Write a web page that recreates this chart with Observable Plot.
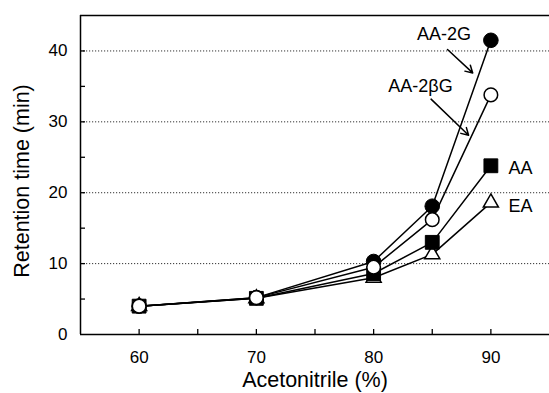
<!DOCTYPE html>
<html><head><meta charset="utf-8">
<script src="https://cdn.jsdelivr.net/npm/d3@7"></script>
<script src="https://cdn.jsdelivr.net/npm/@observablehq/plot@0.6"></script>
<style>
body{margin:0;background:#fff;}
svg{font-family:"Liberation Sans",Arial,sans-serif;}
</style></head><body>
<div id="chart"></div>
<script>
const acetonitrile = [60, 70, 80, 85, 90];
const aa2g  = [4.0, 5.2, 10.3, 18.1, 41.5];
const aa2bg = [4.0, 5.2, 9.5, 16.2, 33.8];
const aa    = [4.0, 5.1, 8.6, 13.0, 23.8];
const ea    = [4.0, 5.1, 8.0, 11.3, 18.6];
const xTicks = [60, 70, 80, 90];
const xMinor = [60, 65, 70, 75, 80, 85, 90];
const yTicks = [0, 10, 20, 30, 40];
const yMinor = [5, 10, 15, 20, 25, 30, 35, 40];
const gridY = [10, 20, 30, 40];
const xTitle = "Acetonitrile (%)";
const yTitle = "Retention time (min)";
const arrowLabels = [
  {name: "AA-2G", x: 86.0, y: 42.4},
  {name: "AA-2βG", x: 84.0, y: 35.0}
];
const endLabels = [
  {name: "AA", x: 91.5, y: 23.4},
  {name: "EA", x: 91.5, y: 18.1}
];
const arrows = [
  {x1: 86.3, y1: 40.2, x2: 88.45, y2: 36.9},
  {x1: 84.9, y1: 33.2, x2: 88.1, y2: 28.1}
];

const series = (vals) => acetonitrile.map((x, i) => ({x, y: vals[i]}));
const S = {
  aa2g: series(aa2g), aa2bg: series(aa2bg), aa: series(aa), ea: series(ea)
};

const line = (d) => Plot.line(d, {x: "x", y: "y", stroke: "black", strokeWidth: 1.5});

const chart = Plot.plot({
  width: 549, height: 393,
  marginLeft: 80, marginRight: 0, marginTop: 15, marginBottom: 59,
  style: {fontFamily: '"Liberation Sans", Arial, sans-serif', background: "white", color: "black", fontSize: "17px"},
  x: {domain: [55, 95], label: null},
  y: {domain: [0, 45], label: null},
  marks: [
    Plot.ruleY(gridY, {stroke: "#333", strokeDasharray: "1.2,1.8", strokeWidth: 1}),
    Plot.ruleY([45], {stroke: "black", strokeWidth: 1.5}),
    Plot.ruleY([0], {stroke: "black", strokeWidth: 1.5}),
    Plot.ruleX([55], {stroke: "black", strokeWidth: 1.5}),
    Plot.axisX({ticks: xMinor, tickSize: 5, dy: -5, text: null, label: null, strokeWidth: 1.3}),
    Plot.axisY({ticks: yMinor, tickSize: 5, dx: 5, text: null, label: null, strokeWidth: 1.3}),
    Plot.axisX({ticks: xTicks, tickSize: 0, tickPadding: 16, fontSize: 17, label: null, tickFormat: d => String(d)}),
    Plot.axisY({ticks: yTicks, tickSize: 0, tickPadding: 13, fontSize: 17, label: null, tickFormat: d => String(d)}),
    Plot.text([xTitle], {frameAnchor: "bottom", textAnchor: "middle", dy: 52, fontSize: 21.5, fill: "black", text: d => d}),
    Plot.text([yTitle], {frameAnchor: "left", textAnchor: "middle", dx: -58, dy: 6, rotate: -90, fontSize: 21.5, fill: "black", text: d => d}),
    line(S.ea), line(S.aa), line(S.aa2g), line(S.aa2bg),
    Plot.dot(S.ea, {x: "x", y: "y", symbol: "triangle", r: 5.6, fill: "white", stroke: "black", strokeWidth: 1.5}),
    Plot.dot(S.aa, {x: "x", y: "y", symbol: "square", r: 7.8, fill: "black", stroke: "black", strokeWidth: 1}),
    Plot.dot(S.aa2g, {x: "x", y: "y", r: 7.3, fill: "black", stroke: "black", strokeWidth: 1}),
    Plot.dot(S.aa2bg, {x: "x", y: "y", r: 6.8, fill: "white", stroke: "black", strokeWidth: 1.5}),
    Plot.arrow(arrows, {x1: "x1", y1: "y1", x2: "x2", y2: "y2", stroke: "black", strokeWidth: 1.5, headLength: 8, bend: 0}),
    Plot.text(arrowLabels, {x: "x", y: "y", text: "name", textAnchor: "middle", fontSize: 18, fill: "black"}),
    Plot.text(endLabels, {x: "x", y: "y", text: "name", textAnchor: "start", fontSize: 18, fill: "black"})
  ]
});
document.getElementById("chart").appendChild(chart);
</script></body></html>
